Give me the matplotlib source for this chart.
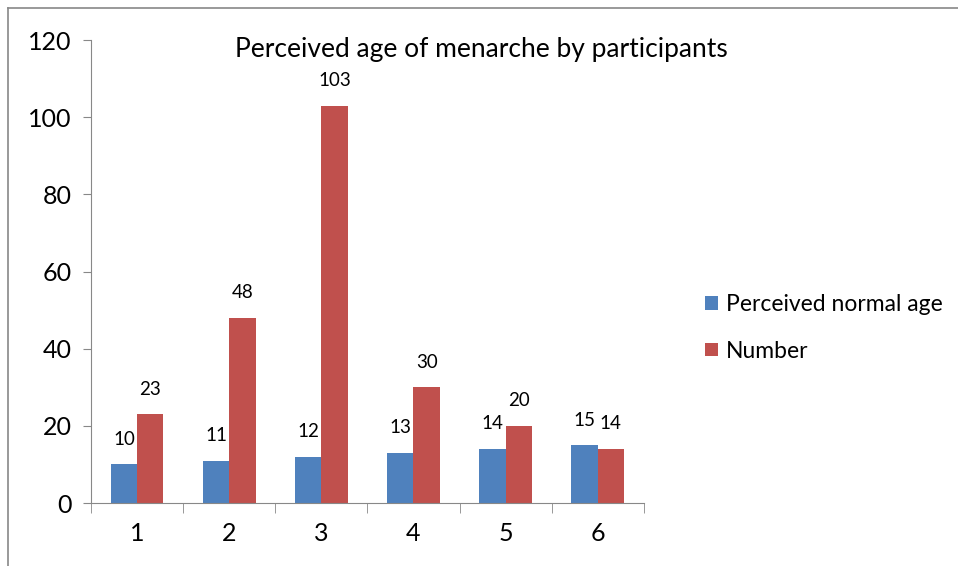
import numpy as np
import matplotlib
matplotlib.use("Agg")
import matplotlib.pyplot as plt
from matplotlib.lines import Line2D

# データ
categories = ["1", "2", "3", "4", "5", "6"]
perceived_age = [10, 11, 12, 13, 14, 15]
number = [23, 48, 103, 30, 20, 14]
y_ticks = [0, 20, 40, 60, 80, 100, 120]

plt.rcParams['font.family'] = ['Lato', 'DejaVu Sans']

fig = plt.figure(figsize=(9.58, 5.66), dpi=100)
ax = fig.add_axes([0.095, 0.1113, 0.577, 0.818])

x = np.arange(len(categories))
w = 1 / 3.5
blue = "#4F81BD"
red = "#C0504D"
b1 = ax.bar(x - w / 2, perceived_age, w, color=blue, label="Perceived normal age")
b2 = ax.bar(x + w / 2, number, w, color=red, label="Number")

# ラベル
for bars, vals in [(b1, perceived_age), (b2, number)]:
    for r, v in zip(bars, vals):
        ax.annotate(str(v), (r.get_x() + r.get_width() / 2, v), xytext=(0, 18),
                    textcoords="offset points", ha="center", va="center", fontsize=13.5)

ax.set_xlim(-0.5, len(categories) - 0.5)
ax.set_ylim(0, 120)
ax.set_yticks(y_ticks)
ax.set_yticklabels([str(t) for t in y_ticks], fontsize=18)
ax.set_xticks(x)
ax.set_xticklabels(categories, fontsize=18)
ax.set_xticks(np.arange(-0.5, len(categories)), minor=True)
ax.tick_params(axis="x", which="major", length=0, pad=14)
ax.tick_params(axis="x", which="minor", length=7, color="#888888")
ax.tick_params(axis="y", length=6, color="#888888", pad=8)
for s in ["top", "right"]:
    ax.spines[s].set_visible(False)
for s in ["left", "bottom"]:
    ax.spines[s].set_color("#888888")

fig.text(0.503, 0.912, "Perceived age of menarche by participants", ha="center",
         va="center", fontsize=19)

ax.legend(loc="center left", bbox_to_anchor=(694 / 958, 1 - 328 / 566),
          bbox_transform=fig.transFigure, frameon=False, fontsize=16.5, borderpad=0,
          handlelength=0.55, handleheight=0.55, handletextpad=0.35, labelspacing=1.1)

# 枠線
fig.add_artist(Line2D([0.0085, 0.0085], [0, 0.986], transform=fig.transFigure, color="#888888", lw=1.2))
fig.add_artist(Line2D([0.0085, 1], [0.986, 0.986], transform=fig.transFigure, color="#888888", lw=1.2))

plt.savefig("out.png", dpi=100)
